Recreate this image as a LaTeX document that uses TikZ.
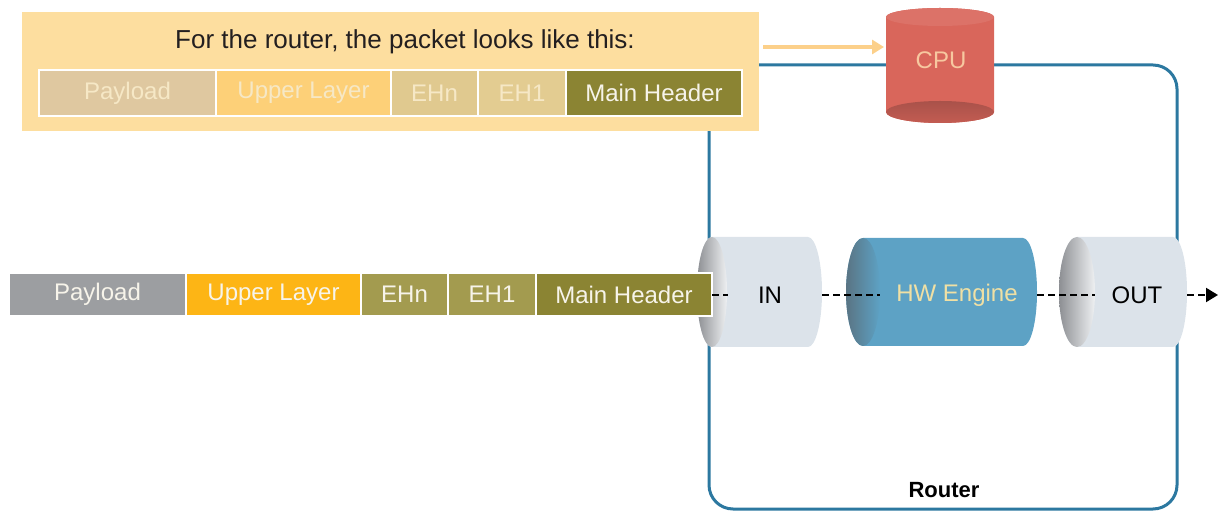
\documentclass[tikz,border=0pt]{standalone}
\usepackage{fontspec}
\setmainfont{Liberation Sans}
\usetikzlibrary{arrows.meta}

\definecolor{panelc}{HTML}{FDDE9F}
\definecolor{routerc}{HTML}{2C78A0}
\definecolor{cpuc}{HTML}{D9665B}
\definecolor{cpudark}{HTML}{A9524A}
\definecolor{cputxt}{HTML}{F7C8A0}
\definecolor{tubec}{HTML}{DCE3EA}
\definecolor{tubeshade}{HTML}{8D8F93}
\definecolor{tubelight}{HTML}{EEF0F2}
\definecolor{hwc}{HTML}{5DA2C5}
\definecolor{hwshade}{HTML}{5A7483}
\definecolor{hwtxt}{HTML}{F0E0A4}
\definecolor{arrowc}{HTML}{FCD08A}
\definecolor{titlec}{HTML}{231F20}
% packet field colours
\definecolor{payc}{HTML}{9C9EA1}
\definecolor{upc}{HTML}{FDB515}
\definecolor{ehc}{HTML}{A39B4F}
\definecolor{mhc}{HTML}{8B8433}
\definecolor{payf}{HTML}{DFC8A0}
\definecolor{upf}{HTML}{FDD078}
\definecolor{ehnf}{HTML}{E0C98F}
\definecolor{eh1f}{HTML}{E3CC91}
\definecolor{fadetxt}{HTML}{F6E8C6}
\definecolor{lighttxt}{HTML}{F7F4EA}

% horizontal tube: face centre x, centre y, face x radius, y radius,
% x of the far end, body colour, face shading left / right
\newcommand\horizcyl[8]{%
  \fill[#6] (#1,#2-#4) -- (#5,#2-#4)
    arc[start angle=-90,end angle=90,x radius=14,y radius=#4]
    -- (#1,#2+#4)
    arc[start angle=90,end angle=270,x radius=#3,y radius=#4] -- cycle;
  \shade[left color=#7,right color=#8] (#1,#2) ellipse[x radius=#3,y radius=#4];
}

\tikzset{
  field/.style={rectangle, draw=white, line width=1pt, inner sep=0pt,
    outer sep=0pt, anchor=west, font=\fontsize{12}{14}\selectfont},
  lowfield/.style={field, minimum height=21.5pt},
  highfield/.style={field, minimum height=23pt},
  label/.style={font=\fontsize{12}{14}\selectfont, inner sep=0pt},
  flow/.style={line width=1pt, dash pattern=on 3.5pt off 2pt},
}

\begin{document}
\begin{tikzpicture}[x=0.5pt,y=-0.5pt]
\useasboundingbox (0,0) rectangle (1224,512);

% router frame
\draw[routerc, line width=1.5pt, rounded corners=12pt] (709,65) rectangle (1177,509);

% panel with the router's view of the packet
\node[fill=panelc, inner sep=0pt, outer sep=0pt, minimum width=368.5pt,
  minimum height=59.5pt, anchor=north west] (panel) at (22,12) {};
\node[font=\fontsize{13}{15}\selectfont, text=titlec, inner sep=0pt] (title) at (405,42)
  {For the router, the packet looks like this:};

\node[highfield, fill=payf, text=fadetxt, minimum width=88.5pt] (t1) at (39,93) {Payload};
\node[highfield, fill=upf, text=fadetxt, minimum width=87.5pt] (t2) at (t1.east) {Upper Layer};
\node[highfield, fill=ehnf, text=fadetxt, minimum width=43.5pt] (t3) at (t2.east) {EHn};
\node[highfield, fill=eh1f, text=fadetxt, minimum width=44pt] (t4) at (t3.east) {EH1};
\node[highfield, fill=mhc, text=lighttxt, minimum width=88pt] (t5) at (t4.east) {Main Header};

% CPU drum
\fill[cpuc] (886,17) -- (886,112)
  arc[start angle=180,end angle=0,x radius=54,y radius=11]
  -- (994,17)
  arc[start angle=0,end angle=-180,x radius=54,y radius=9] -- cycle;
\fill[cpuc!92!white] (940,17) ellipse[x radius=54,y radius=9];
\shade[top color=cpudark, bottom color=cpuc!90!black] (940,112) ellipse[x radius=54,y radius=11];
\node[label, text=cputxt] (cpu) at (941,60) {CPU};
\coordinate (cpuin) at (884,47);
\draw[arrowc, line width=2pt, -{Triangle[length=6pt,width=7pt]}]
  ([xshift=2pt]panel.east |- cpuin) -- (cpuin);

% forwarding path
\horizcyl{712}{292}{15}{55}{808}{tubec}{tubeshade}{tubelight}
\horizcyl{863}{292}{17}{54}{1023}{hwc}{hwshade}{hwc}
\horizcyl{1077}{292}{18}{55}{1173}{tubec}{tubeshade}{tubelight}

\node[label, text=black] (in) at (770,295) {IN};
\node[label, text=hwtxt] (hw) at (957,295) {HW Engine};
\node[label, text=black] (out) at (1137,295) {OUT};

% the packet as it arrives
\node[lowfield, fill=payc, text=lighttxt, minimum width=88.5pt] (b1) at (9,294.5) {Payload};
\node[lowfield, fill=upc, text=lighttxt, minimum width=87.5pt] (b2) at (b1.east) {Upper Layer};
\node[lowfield, fill=ehc, text=lighttxt, minimum width=43.5pt] (b3) at (b2.east) {EHn};
\node[lowfield, fill=ehc, text=lighttxt, minimum width=44pt] (b4) at (b3.east) {EH1};
\node[lowfield, fill=mhc, text=lighttxt, minimum width=88pt] (b5) at (b4.east) {Main Header};

\coordinate (inface) at (728,295);
\coordinate (inend) at (822,295);
\coordinate (hwface) at (880,295);
\coordinate (hwend) at (1037,295);
\coordinate (outface) at (1095,295);
\coordinate (outend) at (1187,295);
\coordinate (exit) at (1218,295);
\draw[flow] (b5.east |- inface) -- (inface);
\draw[flow] (inend) -- (hwface);
\draw[flow] (hwend) -- (outface);
\draw[flow, -{Triangle[length=6pt,width=7pt]}] (outend) -- (exit);

\node[font=\bfseries\fontsize{11}{13}\selectfont, inner sep=0pt] (router) at (944,490) {Router};
\end{tikzpicture}
\end{document}
